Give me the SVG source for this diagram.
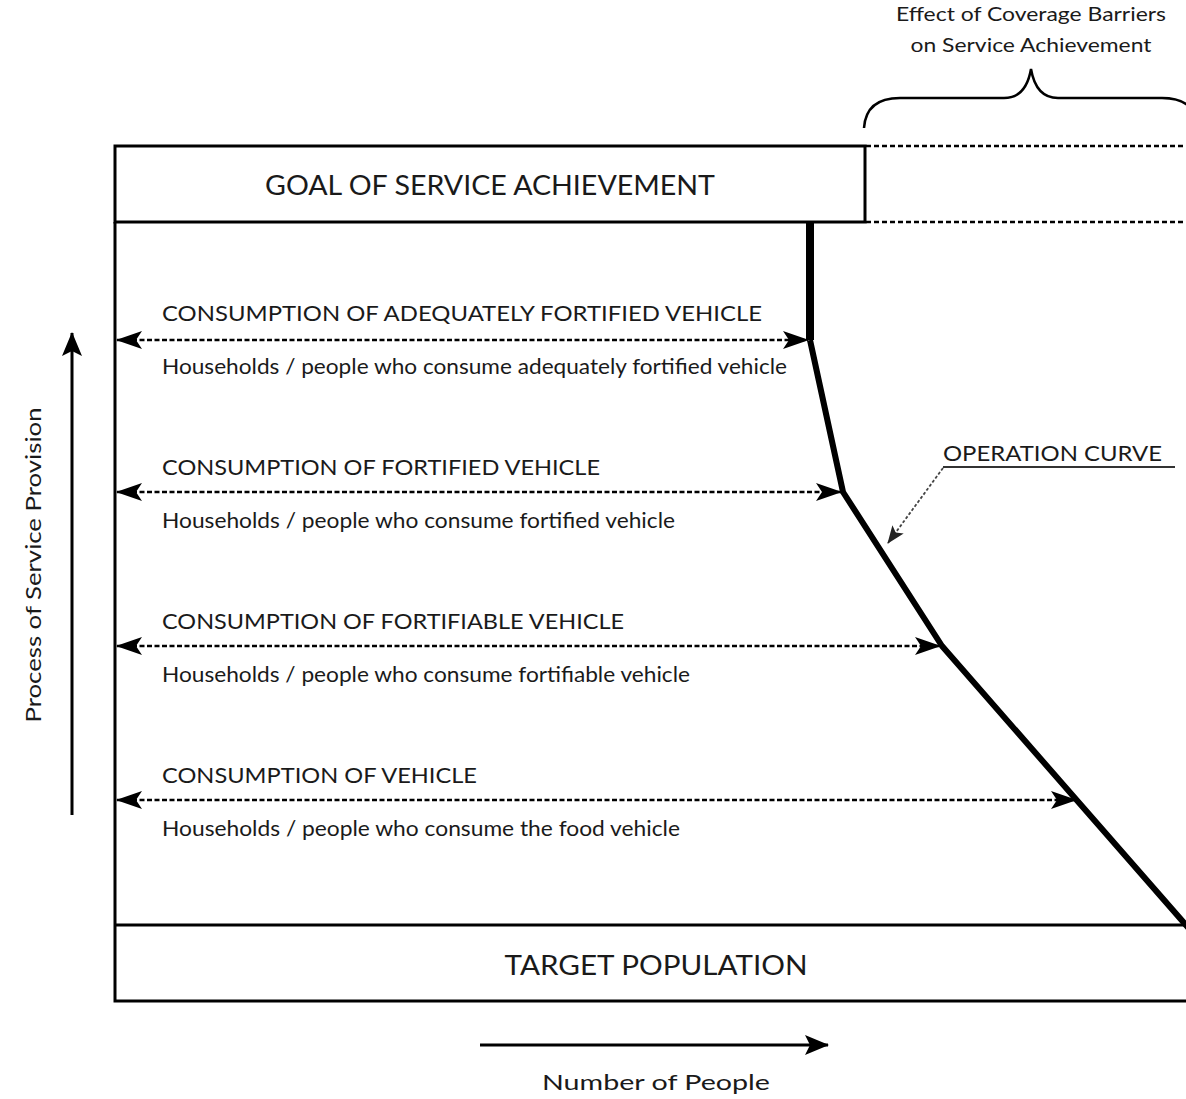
<svg xmlns="http://www.w3.org/2000/svg" width="1186" height="1099" viewBox="0 0 1186 1099">
  <style>
    text { font-family: Lato, "Open Sans", "Liberation Sans", sans-serif; fill: #1a1a1a; }
    .caps { font-size: 22px; }
    .sub { font-size: 21px; }
    .head { font-size: 26px; }
    .note { font-size: 20px; }
    .frame { fill: none; stroke: #000; stroke-width: 3; }
    .dash { fill: none; stroke: #000; stroke-width: 2.5; stroke-dasharray: 5 3; }
    .level { fill: none; stroke: #000; stroke-width: 2.5; stroke-dasharray: 5 2.5; }
    .curve { fill: none; stroke: #000; stroke-width: 6; stroke-linejoin: round; }
    .axis { fill: none; stroke: #000; stroke-width: 3; }
  </style>
  <defs>
    <marker id="head" viewBox="0 0 26 18" refX="25" refY="9" markerWidth="26" markerHeight="18" markerUnits="userSpaceOnUse" orient="auto-start-reverse">
      <path d="M0,0 L26,9 L0,18 L6,9 Z" fill="#000"/>
    </marker>
    <marker id="axisHead" viewBox="0 0 24 20" refX="23" refY="10" markerWidth="24" markerHeight="20" markerUnits="userSpaceOnUse" orient="auto">
      <path d="M0,0 L24,10 L0,20 L5,10 Z" fill="#000"/>
    </marker>
    <marker id="thinHead" viewBox="0 0 18 14" refX="17" refY="7" markerWidth="18" markerHeight="14" markerUnits="userSpaceOnUse" orient="auto">
      <path d="M0,0 L18,7 L0,14 L4,7 Z" fill="#222"/>
    </marker>
  </defs>

  <rect width="1186" height="1099" fill="#fff"/>

  <!-- caption above the brace -->
  <g id="barrier-note">
    <text class="note" x="1031" y="21" text-anchor="middle" textLength="270" lengthAdjust="spacingAndGlyphs">Effect of Coverage Barriers</text>
    <text class="note" x="1031" y="52" text-anchor="middle" textLength="241" lengthAdjust="spacingAndGlyphs">on Service Achievement</text>
    <path d="M864,128 Q866,98 900,98 L1004,98 Q1026,98 1031,69 Q1036,98 1058,98 L1162,98 Q1196,98 1198,128" fill="none" stroke="#000" stroke-width="2.5"/>
  </g>

  <!-- goal box -->
  <g id="goal">
    <rect class="frame" x="115" y="146" width="750" height="76"/>
    <text class="head" x="490" y="195" text-anchor="middle" textLength="450" lengthAdjust="spacingAndGlyphs">GOAL OF SERVICE ACHIEVEMENT</text>
  </g>

  <!-- main frame and target population box -->
  <g id="target">
    <path class="frame" d="M115,222 L115,1001 L1190,1001 M115,925 L1190,925"/>
    <text class="head" x="656" y="975" text-anchor="middle" textLength="303" lengthAdjust="spacingAndGlyphs">TARGET POPULATION</text>
  </g>

  <!-- dashed extensions of the goal box -->
  <g id="goal-extension">
    <line class="dash" x1="866" y1="146" x2="1186" y2="146"/>
    <line class="dash" x1="866" y1="222" x2="1186" y2="222"/>
  </g>

  <!-- operation curve -->
  <g id="operation-curve">
    <path d="M810,222 L810,340" fill="none" stroke="#000" stroke-width="8"/>
    <path class="curve" d="M810,340 L843,492 L942,646 L1192,932"/>
  </g>

  <g id="operation-label">
    <text class="caps" x="943" y="461" textLength="219" lengthAdjust="spacingAndGlyphs">OPERATION CURVE</text>
    <line x1="943" y1="467" x2="1175" y2="467" stroke="#333" stroke-width="2"/>
  </g>

  <!-- level labels -->
  <g id="level-adequate">
    <text class="caps" x="162" y="321" textLength="600" lengthAdjust="spacingAndGlyphs">CONSUMPTION OF ADEQUATELY FORTIFIED VEHICLE</text>
    <text class="sub" x="162" y="374" textLength="625" lengthAdjust="spacingAndGlyphs">Households / people who consume adequately fortified vehicle</text>
  </g>
  <g id="level-fortified">
    <text class="caps" x="162" y="475" textLength="438" lengthAdjust="spacingAndGlyphs">CONSUMPTION OF FORTIFIED VEHICLE</text>
    <text class="sub" x="162" y="528" textLength="513" lengthAdjust="spacingAndGlyphs">Households / people who consume fortified vehicle</text>
  </g>
  <g id="level-fortifiable">
    <text class="caps" x="162" y="629" textLength="462" lengthAdjust="spacingAndGlyphs">CONSUMPTION OF FORTIFIABLE VEHICLE</text>
    <text class="sub" x="162" y="682" textLength="528" lengthAdjust="spacingAndGlyphs">Households / people who consume fortifiable vehicle</text>
  </g>
  <g id="level-vehicle">
    <text class="caps" x="162" y="783" textLength="315" lengthAdjust="spacingAndGlyphs">CONSUMPTION OF VEHICLE</text>
    <text class="sub" x="162" y="836" textLength="518" lengthAdjust="spacingAndGlyphs">Households / people who consume the food vehicle</text>
  </g>

  <!-- axes -->
  <g id="axis-provision">
    <line class="axis" x1="72" y1="815" x2="72" y2="333" marker-end="url(#axisHead)"/>
    <text class="caps" transform="translate(41,565) rotate(-90)" text-anchor="middle" textLength="315" lengthAdjust="spacingAndGlyphs">Process of Service Provision</text>
  </g>
  <g id="axis-people">
    <line class="axis" x1="480" y1="1045" x2="828" y2="1045" marker-end="url(#axisHead)"/>
    <text class="caps" x="656" y="1090" text-anchor="middle" textLength="228" lengthAdjust="spacingAndGlyphs">Number of People</text>
  </g>

  <!-- connectors -->
  <g id="connectors">
    <line class="level" x1="117" y1="340" x2="808" y2="340" marker-start="url(#head)" marker-end="url(#head)"/>
    <line class="level" x1="117" y1="492" x2="841" y2="492" marker-start="url(#head)" marker-end="url(#head)"/>
    <line class="level" x1="117" y1="646" x2="940" y2="646" marker-start="url(#head)" marker-end="url(#head)"/>
    <line class="level" x1="117" y1="800" x2="1076" y2="800" marker-start="url(#head)" marker-end="url(#head)"/>
    <line x1="943" y1="468" x2="888" y2="543" stroke="#444" stroke-width="1.8" stroke-dasharray="3 2" marker-end="url(#thinHead)"/>
  </g>
</svg>
